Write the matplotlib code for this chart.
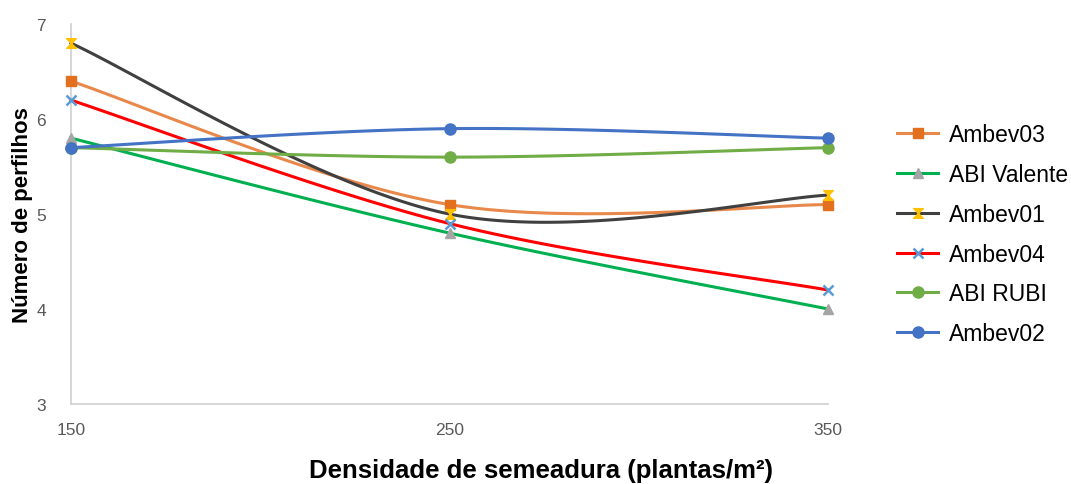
import matplotlib
matplotlib.use("Agg")
import matplotlib.pyplot as plt
import numpy as np
from matplotlib.path import Path

plt.rcParams["font.family"] = ["Liberation Sans", "DejaVu Sans"]

densidade = [150, 250, 350]
ambev03 = [6.4, 5.1, 5.1]
abi_valente = [5.8, 4.8, 4.0]
ambev01 = [6.8, 5.0, 5.2]
ambev04 = [6.2, 4.9, 4.2]
abi_rubi = [5.7, 5.6, 5.7]
ambev02 = [5.7, 5.9, 5.8]

hourglass = Path([(-1, 1), (1, 1), (-1, -1), (1, -1), (-1, 1)],
                 [Path.MOVETO, Path.LINETO, Path.LINETO, Path.LINETO, Path.CLOSEPOLY])

# (label, values, line colour, marker, marker colour, marker size)
series = [
    ("Ambev03", ambev03, "#E8884A", "s", "#E2701F", 7.5),
    ("ABI Valente", abi_valente, "#00B050", "^", "#A5A5A5", 7.5),
    ("Ambev01", ambev01, "#404040", hourglass, "#FFC000", 7),
    ("Ambev04", ambev04, "#FF0000", "x", "#5B9BD5", 6.5),
    ("ABI RUBI", abi_rubi, "#70AD47", "o", "#70AD47", 8),
    ("Ambev02", ambev02, "#4472C4", "o", "#4472C4", 8),
]


def smooth(x, y, n=60):
    # Catmull-Rom style cubic Bezier through the points (like spreadsheet smoothing)
    x = np.asarray(x, float)
    y = np.asarray(y, float)
    pts = np.column_stack([x, y])
    out = []
    for i in range(len(pts) - 1):
        p0 = pts[max(i - 1, 0)]
        p1 = pts[i]
        p2 = pts[i + 1]
        p3 = pts[min(i + 2, len(pts) - 1)]
        c1 = p1 + (p2 - p0) / 6.0
        c2 = p2 - (p3 - p1) / 6.0
        t = np.linspace(0, 1, n)[:, None]
        seg = ((1 - t) ** 3) * p1 + 3 * ((1 - t) ** 2) * t * c1 + 3 * (1 - t) * t ** 2 * c2 + t ** 3 * p2
        out.append(seg if i == 0 else seg[1:])
    seg = np.vstack(out)
    return seg[:, 0], seg[:, 1]


fig = plt.figure(figsize=(10.71, 4.85), dpi=100)
ax = fig.add_axes([0.0663, 0.165, 0.707, 0.783])

handles = []
for label, vals, lc, mk, mc, ms in series:
    sx, sy = smooth(densidade, vals)
    ax.plot(sx, sy, color=lc, lw=2.2, zorder=2, clip_on=False)
    ax.plot(densidade, vals, ls="none", marker=mk, color=mc, mec=mc,
            ms=ms, mew=1.8 if mk == "x" else 1, zorder=3, clip_on=False)
    h, = ax.plot([], [], color=lc, lw=2.2, marker=mk, mfc=mc, mec=mc,
                 ms=ms, mew=1.8 if mk == "x" else 1, label=label)
    handles.append(h)

ax.set_xlim(150, 350)
ax.set_ylim(3, 7)
ax.set_xticks(densidade)
ax.set_yticks([3, 4, 5, 6, 7])
ax.tick_params(length=0, labelsize=12.5, labelcolor="#595959")
ax.tick_params(axis="y", pad=18)
ax.tick_params(axis="x", pad=13)
for side in ("top", "right"):
    ax.spines[side].set_visible(False)
for side in ("left", "bottom"):
    ax.spines[side].set_color("#D0D0D0")
    ax.spines[side].set_linewidth(1.2)

ax.set_ylabel("Número de perfilhos", fontsize=16, fontweight="bold")
ax.yaxis.set_label_coords(-0.05, 0.5)
fig.text(0.505, 0.029, "Densidade de semeadura (plantas/m²)", fontsize=18.5,
         fontweight="bold", ha="center", va="center")

ax.legend(handles=handles, loc="upper left", bbox_to_anchor=(1.091, 0.739),
          frameon=False, fontsize=16.5, handlelength=1.8, labelspacing=0.73,
          handletextpad=0.45, borderaxespad=0, borderpad=0)

fig.savefig("out.png", dpi=100)
